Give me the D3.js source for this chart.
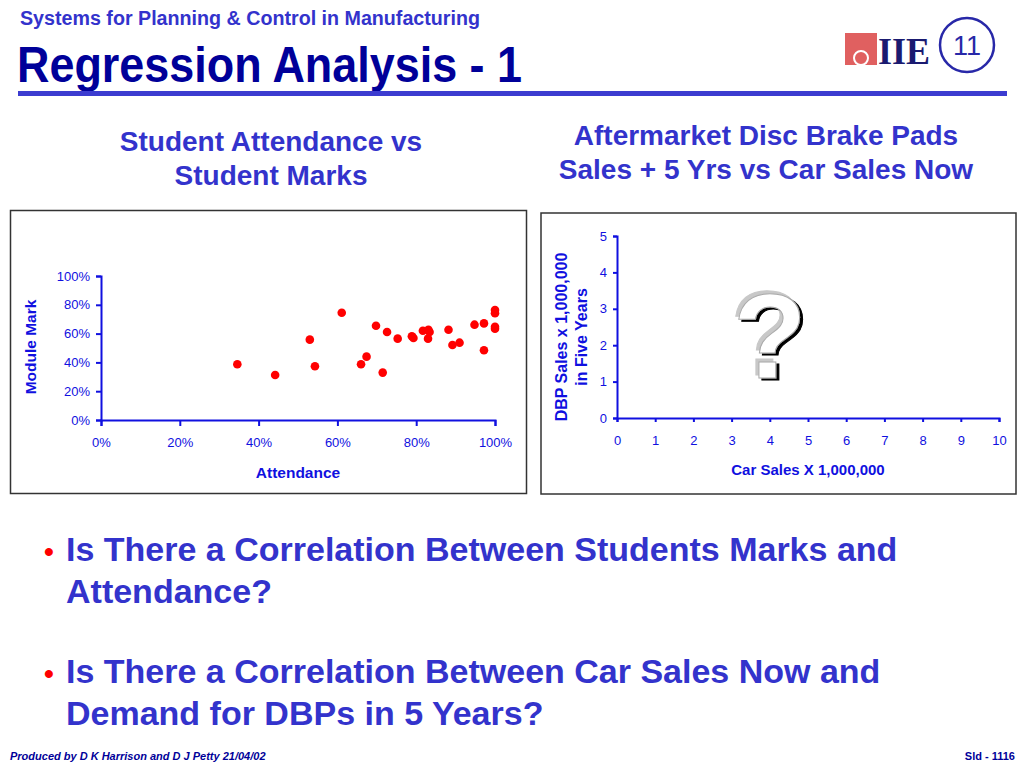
<!DOCTYPE html>
<html>
<head>
<meta charset="utf-8">
<script src="https://cdn.jsdelivr.net/npm/d3@7"></script>
<style>
  body { margin: 0; background: #fff; }
  svg { display: block; font-family: "Liberation Sans", Arial, sans-serif; }
</style>
</head>
<body>
<svg width="1024" height="768"></svg>
<script>
// attendance vs module mark
const attendance = [0.346, 0.442, 0.530, 0.543, 0.611, 0.660, 0.674, 0.698, 0.715, 0.726,
  0.753, 0.789, 0.793, 0.817, 0.831, 0.834, 0.830, 0.882, 0.892, 0.910, 0.948, 0.972,
  0.972, 1.0, 1.0, 1.0, 1.0]
const marks = [0.387, 0.312, 0.558, 0.373, 0.745, 0.387, 0.440, 0.655, 0.329, 0.611,
  0.565, 0.582, 0.570, 0.620, 0.627, 0.611, 0.565, 0.627, 0.521, 0.537, 0.662, 0.671,
  0.484, 0.764, 0.741, 0.648, 0.634]
const pctTicks = [0, 0.2, 0.4, 0.6, 0.8, 1]
const carTicks = [0, 1, 2, 3, 4, 5, 6, 7, 8, 9, 10]
const dbpTicks = [0, 1, 2, 3, 4, 5]
const bullets = [
  ["Is There a Correlation Between Students Marks and", "Attendance?"],
  ["Is There a Correlation Between Car Sales Now and", "Demand for DBPs in 5 Years?"]
]

const svg = d3.select("svg")
const axisBlue = "#1010e0"
const titleBlue = "#3333cc"

// shadow for the big question mark: grey up-left, black down-right
const f = svg.append("defs").append("filter").attr("id", "qshadow")
    .attr("x", "-20%").attr("y", "-20%").attr("width", "140%").attr("height", "140%")
f.append("feOffset").attr("in", "SourceAlpha").attr("dx", -3).attr("dy", -3).attr("result", "o1")
f.append("feFlood").attr("flood-color", "#c8c8c8").attr("result", "c1")
f.append("feComposite").attr("in", "c1").attr("in2", "o1").attr("operator", "in").attr("result", "s1")
f.append("feOffset").attr("in", "SourceAlpha").attr("dx", 3).attr("dy", 2).attr("result", "o2")
f.append("feFlood").attr("flood-color", "#000").attr("result", "c2")
f.append("feComposite").attr("in", "c2").attr("in2", "o2").attr("operator", "in").attr("result", "s2")
const fm = f.append("feMerge")
fm.append("feMergeNode").attr("in", "s1")
fm.append("feMergeNode").attr("in", "s2")
fm.append("feMergeNode").attr("in", "SourceGraphic")

// header
svg.append("text").attr("x", 20).attr("y", 25)
    .text("Systems for Planning & Control in Manufacturing")
    .attr("textLength", 460).attr("lengthAdjust", "spacingAndGlyphs")
    .style("font-size", "20px").style("font-weight", "bold").style("fill", titleBlue)
svg.append("text").attr("x", 17).attr("y", 82)
    .text("Regression Analysis - 1")
    .attr("textLength", 505).attr("lengthAdjust", "spacingAndGlyphs")
    .style("font-size", "50px").style("font-weight", "bold").style("fill", "#000099")
svg.append("rect").attr("x", 18).attr("y", 91).attr("width", 989).attr("height", 5).style("fill", "#3c3cd0")

// logo
const logo = svg.append("g")
logo.append("rect").attr("x", 845).attr("y", 33).attr("width", 32).attr("height", 32).style("fill", "#e06060")
logo.append("circle").attr("cx", 861).attr("cy", 58).attr("r", 7).style("fill", "none").style("stroke", "#fff").style("stroke-width", 2)
logo.append("text").attr("x", 904).attr("y", 64).attr("text-anchor", "middle")
    .text("IIE").style("font-family", "'Liberation Serif', serif").style("font-weight", "bold")
    .style("font-size", "38px").style("fill", "#1a1a70")
    .attr("textLength", 52).attr("lengthAdjust", "spacingAndGlyphs")
svg.append("circle").attr("cx", 967).attr("cy", 45).attr("r", 27)
    .style("fill", "#fff").style("stroke", "#2828a8").style("stroke-width", 2.5)
svg.append("text").attr("x", 967).attr("y", 55).attr("text-anchor", "middle")
    .text("11").style("font-size", "27px").style("fill", "#2828a8")

// chart titles
function title(lines, cx, y0) {
    lines.forEach((t, i) => {
        svg.append("text").attr("x", cx).attr("y", y0 + i * 34).attr("text-anchor", "middle")
            .text(t).style("font-size", "28px").style("font-weight", "bold").style("fill", titleBlue)
    })
}
title(["Student Attendance vs", "Student Marks"], 271, 151)
title(["Aftermarket Disc Brake Pads", "Sales + 5 Yrs vs Car Sales Now"], 766, 145)

// boxes
svg.append("rect").attr("x", 10.5).attr("y", 210.5).attr("width", 516).attr("height", 283)
    .style("fill", "none").style("stroke", "#333").style("stroke-width", 1.5)
svg.append("rect").attr("x", 541).attr("y", 213).attr("width", 475).attr("height", 281)
    .style("fill", "none").style("stroke", "#333").style("stroke-width", 1.5)

function styleAxis(g, size) {
    g.select(".domain").style("stroke", axisBlue).style("stroke-width", 2)
    g.selectAll(".tick line").style("stroke", axisBlue).style("stroke-width", 2)
    g.selectAll(".tick text").style("fill", axisBlue).style("font-size", size + "px")
        .style("font-family", "'Liberation Sans', Arial, sans-serif")
}

// left scatter
const x1 = d3.scaleLinear().domain([0, 1]).range([101, 495])
const y1 = d3.scaleLinear().domain([0, 1]).range([420, 276])
const gx1 = svg.append("g").attr("transform", "translate(0,420)")
    .call(d3.axisBottom(x1).tickValues(pctTicks).tickFormat(d3.format(".0%")).tickSizeOuter(0).tickSize(6).tickPadding(12))
styleAxis(gx1, 13)
const gy1 = svg.append("g").attr("transform", "translate(101,0)")
    .call(d3.axisLeft(y1).tickValues(pctTicks).tickFormat(d3.format(".0%")).tickSizeOuter(0).tickSize(5).tickPadding(6))
styleAxis(gy1, 13)
svg.append("g").selectAll("circle")
    .data(attendance.map((a, i) => [a, marks[i]]))
    .join("circle")
    .attr("cx", d => x1(d[0]))
    .attr("cy", d => y1(d[1]))
    .attr("r", 4.3)
    .style("fill", "#ff0000")
svg.append("text").attr("x", 298).attr("y", 478).attr("text-anchor", "middle").text("Attendance")
    .style("font-size", "15.5px").style("font-weight", "bold").style("fill", axisBlue)
svg.append("text").attr("transform", "translate(36,347) rotate(-90)").attr("text-anchor", "middle")
    .text("Module Mark").style("font-size", "15.5px").style("font-weight", "bold").style("fill", axisBlue)

// right empty chart
const x2 = d3.scaleLinear().domain([0, 10]).range([617, 999])
const y2 = d3.scaleLinear().domain([0, 5]).range([418, 236])
const gx2 = svg.append("g").attr("transform", "translate(0,418)")
    .call(d3.axisBottom(x2).tickValues(carTicks).tickFormat(d3.format("d")).tickSizeOuter(0).tickSize(4).tickPadding(14))
styleAxis(gx2, 13)
const gy2 = svg.append("g").attr("transform", "translate(617,0)")
    .call(d3.axisLeft(y2).tickValues(dbpTicks).tickFormat(d3.format("d")).tickSizeOuter(0).tickSize(4).tickPadding(6))
styleAxis(gy2, 13)
svg.append("text").attr("x", 808).attr("y", 475).attr("text-anchor", "middle").text("Car Sales X 1,000,000")
    .style("font-size", "15px").style("font-weight", "bold").style("fill", axisBlue)
svg.append("text").attr("transform", "translate(567,337) rotate(-90)").attr("text-anchor", "middle")
    .text("DBP Sales x 1,000,000").style("font-size", "16px").style("font-weight", "bold").style("fill", axisBlue)
svg.append("text").attr("transform", "translate(587,337) rotate(-90)").attr("text-anchor", "middle")
    .text("in Five Years").style("font-size", "16px").style("font-weight", "bold").style("fill", axisBlue)

// big question mark
svg.append("text").attr("x", x2(4)).attr("y", y2(1.1)).attr("text-anchor", "middle").text("?")
    .attr("filter", "url(#qshadow)")
    .style("font-size", "120px").style("font-weight", "bold")
    .style("fill", "#fff").style("stroke", "#aaa").style("stroke-width", 1)

// bullets
bullets.forEach((lines, b) => {
    const y0 = 561 + b * 122
    svg.append("text").attr("x", 44).attr("y", y0).text("•")
        .style("font-size", "28px").style("font-weight", "bold").style("fill", "#ff0000")
    lines.forEach((t, i) => {
        svg.append("text").attr("x", 66).attr("y", y0 + i * 42).text(t)
            .style("font-size", "34px").style("font-weight", "bold").style("fill", titleBlue)
    })
})

// footer
svg.append("text").attr("x", 10).attr("y", 760).text("Produced by D K Harrison and D J Petty 21/04/02")
    .style("font-size", "11px").style("font-weight", "bold").style("font-style", "italic").style("fill", "#000099")
svg.append("text").attr("x", 1015).attr("y", 760).attr("text-anchor", "end").text("Sld - 1116")
    .style("font-size", "11px").style("font-weight", "bold").style("fill", "#000099")
</script>
</body>
</html>
